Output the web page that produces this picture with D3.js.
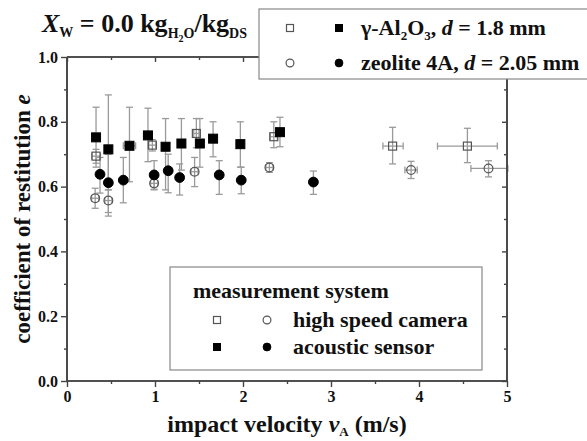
<html>
  <meta charset="utf-8">
  <head>
  <style>
    body { margin: 0; background: #fff; }
    text { font-family: "Liberation Serif", "Times New Roman", serif; font-weight: bold; fill: #111; }
  </style>
  </head>
  <body>
    <div id="chart"></div>
    <script src="https://d3js.org/d3.v7.min.js"></script>
    <script>
    'use strict';

    // acoustic sensor, gamma-Al2O3 (filled squares)
    var alAcV   = [0.33, 0.47, 0.71, 0.92, 1.12, 1.30, 1.51, 1.66, 1.97, 2.42];
    var alAcE   = [0.752, 0.715, 0.726, 0.758, 0.723, 0.733, 0.733, 0.748, 0.731, 0.768];
    var alAcEhi = [0.845, 0.883, 0.845, 0.842, 0.810, 0.810, 0.810, 0.800, 0.800, 0.814];
    var alAcElo = [0.660, 0.590, 0.615, 0.677, 0.590, 0.651, 0.660, 0.692, 0.660, 0.723];
    var alAcVlo = [0.30, 0.44, 0.64, 0.87, 1.09, 1.27, 1.48, 1.63, 1.94, 2.39];
    var alAcVhi = [0.36, 0.50, 0.78, 0.97, 1.15, 1.33, 1.54, 1.69, 2.00, 2.45];

    // acoustic sensor, zeolite 4A (filled circles)
    var zeAcV   = [0.375, 0.47, 0.64, 0.99, 1.15, 1.28, 1.73, 1.98, 2.80];
    var zeAcE   = [0.638, 0.612, 0.620, 0.636, 0.649, 0.628, 0.636, 0.620, 0.614];
    var zeAcEhi = [0.690, 0.700, 0.690, 0.680, 0.700, 0.670, 0.680, 0.660, 0.648];
    var zeAcElo = [0.580, 0.509, 0.550, 0.590, 0.581, 0.574, 0.576, 0.578, 0.576];

    // high speed camera, gamma-Al2O3 (open squares)
    var alCamV   = [0.33, 0.97, 1.47, 2.35, 3.70, 4.55];
    var alCamE   = [0.694, 0.728, 0.764, 0.754, 0.725, 0.725];
    var alCamEhi = [0.715, 0.745, 0.810, 0.800, 0.783, 0.780];
    var alCamElo = [0.672, 0.710, 0.720, 0.720, 0.670, 0.674];
    var alCamVlo = [0.28, 0.93, 1.44, 2.31, 3.59, 4.21];
    var alCamVhi = [0.38, 1.01, 1.50, 2.39, 3.82, 4.89];

    // high speed camera, zeolite 4A (open circles)
    var zeCamV   = [0.32, 0.47, 0.99, 1.45, 2.30, 3.91, 4.79];
    var zeCamE   = [0.564, 0.557, 0.610, 0.646, 0.659, 0.651, 0.656];
    var zeCamEhi = [0.595, 0.590, 0.628, 0.690, 0.674, 0.678, 0.680];
    var zeCamElo = [0.533, 0.520, 0.592, 0.600, 0.644, 0.625, 0.630];
    var zeCamVlo = [0.28, 0.43, 0.95, 1.41, 2.26, 3.84, 4.59];
    var zeCamVhi = [0.36, 0.51, 1.03, 1.49, 2.34, 3.98, 5.01];

    var xTicks = [0, 1, 2, 3, 4, 5];
    var yTicks = [0, 0.2, 0.4, 0.6, 0.8, 1.0];

    var W = 587, H = 441;
    var margin = {top: 57, right: 80, bottom: 60, left: 67};
    var AXIS = '#444', BAR = '#9a9a9a';

    var svg = d3.select('#chart').append('svg').attr('width', W).attr('height', H);

    var x = d3.scaleLinear().domain([0, 5]).range([margin.left, W - margin.right]);
    var y = d3.scaleLinear().domain([0, 1]).range([H - margin.bottom, margin.top]);

    function rows(v, e, ehi, elo, vlo, vhi) {
      return v.map(function(d, i) {
        return {v: d, e: e[i], ehi: ehi[i], elo: elo[i],
                vlo: vlo ? vlo[i] : d, vhi: vhi ? vhi[i] : d};
      });
    }
    var series = [
      {data: rows(alCamV, alCamE, alCamEhi, alCamElo, alCamVlo, alCamVhi), shape: 'square', filled: false},
      {data: rows(zeCamV, zeCamE, zeCamEhi, zeCamElo, zeCamVlo, zeCamVhi), shape: 'circle', filled: false},
      {data: rows(alAcV, alAcE, alAcEhi, alAcElo, alAcVlo, alAcVhi), shape: 'square', filled: true},
      {data: rows(zeAcV, zeAcE, zeAcEhi, zeAcElo), shape: 'circle', filled: true}
    ];

    // error bars
    var eb = svg.append('g').attr('stroke', BAR).attr('stroke-width', 1.3).attr('fill', 'none');
    series.forEach(function(s) {
      s.data.forEach(function(d) {
        var cx = x(d.v), cy = y(d.e), c = 3.5;
        eb.append('line').attr('x1', cx).attr('x2', cx).attr('y1', y(d.ehi)).attr('y2', y(d.elo));
        eb.append('line').attr('x1', cx - c).attr('x2', cx + c).attr('y1', y(d.ehi)).attr('y2', y(d.ehi));
        eb.append('line').attr('x1', cx - c).attr('x2', cx + c).attr('y1', y(d.elo)).attr('y2', y(d.elo));
        if (d.vhi - d.vlo > 0) {
          eb.append('line').attr('x1', x(d.vlo)).attr('x2', x(d.vhi)).attr('y1', cy).attr('y2', cy);
          eb.append('line').attr('x1', x(d.vlo)).attr('x2', x(d.vlo)).attr('y1', cy - c).attr('y2', cy + c);
          eb.append('line').attr('x1', x(d.vhi)).attr('x2', x(d.vhi)).attr('y1', cy - c).attr('y2', cy + c);
        }
      });
    });

    function marker(g, shape, filled, cx, cy, s) {
      var m;
      if (shape === 'square') {
        m = g.append('rect').attr('x', cx - s / 2).attr('y', cy - s / 2).attr('width', s).attr('height', s);
      } else {
        m = g.append('circle').attr('cx', cx).attr('cy', cy).attr('r', s / 2 + 0.4);
      }
      if (filled) m.attr('fill', '#000').attr('stroke', '#000');
      else m.attr('fill', 'none').attr('stroke', '#555').attr('stroke-width', 1.2);
    }

    var mk = svg.append('g');
    series.forEach(function(s) {
      s.data.forEach(function(d) { marker(mk, s.shape, s.filled, x(d.v), y(d.e), s.filled ? 9 : 8); });
    });

    // axes: major ticks outside on bottom/left, mirrored inside on top/right
    var fmtY = d3.format('.1f');
    var minorX = [0.5, 1.5, 2.5, 3.5, 4.5], minorY = [0.1, 0.3, 0.5, 0.7, 0.9];
    function axisG(kind, pos) {
      return svg.append('g').attr('class', 'ax ' + kind)
        .attr('transform', kind === 'h' ? 'translate(0,' + pos + ')' : 'translate(' + pos + ',0)');
    }
    axisG('h', y(0)).call(d3.axisBottom(x).tickValues(xTicks).tickSize(6).tickPadding(4).tickFormat(d3.format('d')));
    axisG('v', x(0)).call(d3.axisLeft(y).tickValues(yTicks).tickSize(6).tickPadding(3).tickFormat(fmtY));
    axisG('h', y(1)).call(d3.axisBottom(x).tickValues(xTicks).tickSize(5).tickFormat(''));
    axisG('v', x(5)).call(d3.axisLeft(y).tickValues(yTicks).tickSize(5).tickFormat(''));
    axisG('h', y(0)).call(d3.axisBottom(x).tickValues(minorX).tickSize(3).tickFormat(''));
    axisG('v', x(0)).call(d3.axisLeft(y).tickValues(minorY).tickSize(3).tickFormat(''));
    axisG('h', y(1)).call(d3.axisBottom(x).tickValues(minorX).tickSize(3).tickFormat(''));
    axisG('v', x(5)).call(d3.axisLeft(y).tickValues(minorY).tickSize(3).tickFormat(''));
    svg.selectAll('.ax.h .domain').attr('d', 'M' + x(0) + ',0H' + x(5));
    svg.selectAll('.ax.v .domain').attr('d', 'M0,' + y(0) + 'V' + y(1));
    svg.selectAll('.ax .domain').attr('stroke', AXIS).attr('stroke-width', 1.6);
    svg.selectAll('.ax .tick line').attr('stroke', AXIS).attr('stroke-width', 1.4);
    svg.selectAll('.ax .tick text').style('font-family', '"Liberation Serif", serif')
      .style('font-weight', 'bold').style('font-size', '16px').attr('fill', '#111');

    // axis titles
    var xl = svg.append('text').attr('x', (x(0) + x(5)) / 2).attr('y', 432)
      .attr('text-anchor', 'middle').style('font-size', '24px');
    xl.append('tspan').text('impact velocity ');
    xl.append('tspan').text('v').style('font-style', 'italic');
    xl.append('tspan').text('A').style('font-size', '13px').attr('dy', 4);
    xl.append('tspan').text(' (m/s)').attr('dy', -4);

    var yl = svg.append('text').attr('transform', 'translate(30,' + (y(0) + y(1)) / 2 + ') rotate(-90)')
      .attr('text-anchor', 'middle').style('font-size', '23px');
    yl.append('tspan').text('coefficient of restitution ');
    yl.append('tspan').text('e').style('font-style', 'italic');

    // title
    var t = svg.append('text').attr('x', 42).attr('y', 32).style('font-size', '26px');
    t.append('tspan').text('X').style('font-style', 'italic');
    t.append('tspan').text('W').style('font-size', '14px').attr('dy', 5);
    t.append('tspan').text(' = 0.0 kg').attr('dy', -5);
    t.append('tspan').text('H').style('font-size', '14px').attr('dy', 6);
    t.append('tspan').text('2').style('font-size', '10px').attr('dy', 4);
    t.append('tspan').text('O').style('font-size', '14px').attr('dy', -4);
    t.append('tspan').text('/kg').attr('dy', -6);
    t.append('tspan').text('DS').style('font-size', '14px').attr('dy', 6);

    // top legend
    var lg = svg.append('g');
    lg.append('rect').attr('x', 259).attr('y', 9).attr('width', 340).attr('height', 70)
      .attr('fill', '#fff').attr('stroke', '#888').attr('stroke-width', 1.2);
    marker(lg, 'square', false, 290, 28, 7);
    marker(lg, 'square', true, 339, 28, 7);
    marker(lg, 'circle', false, 290, 63, 7);
    marker(lg, 'circle', true, 339, 63, 7);
    var l1 = lg.append('text').attr('x', 361).attr('y', 35).style('font-size', '22px');
    l1.append('tspan').text('\u03b3-Al');
    l1.append('tspan').text('2').style('font-size', '13px').attr('dy', 5);
    l1.append('tspan').text('O').attr('dy', -5);
    l1.append('tspan').text('3').style('font-size', '13px').attr('dy', 5);
    l1.append('tspan').text(', ').attr('dy', -5);
    l1.append('tspan').text('d').style('font-style', 'italic');
    l1.append('tspan').text(' = 1.8 mm');
    var l2 = lg.append('text').attr('x', 361).attr('y', 70).style('font-size', '22px');
    l2.append('tspan').text('zeolite 4A, ');
    l2.append('tspan').text('d').style('font-style', 'italic');
    l2.append('tspan').text(' = 2.05 mm');

    // lower legend
    var lg2 = svg.append('g');
    lg2.append('rect').attr('x', 170).attr('y', 267).attr('width', 312).attr('height', 103)
      .attr('fill', '#fff').attr('stroke', '#888').attr('stroke-width', 1.2);
    lg2.append('text').attr('x', 193).attr('y', 298).style('font-size', '22px').text('measurement system');
    marker(lg2, 'square', false, 217, 320, 7);
    marker(lg2, 'circle', false, 267, 320, 7);
    marker(lg2, 'square', true, 217, 347, 7);
    marker(lg2, 'circle', true, 267, 347, 7);
    lg2.append('text').attr('x', 293).attr('y', 327).style('font-size', '22px').text('high speed camera');
    lg2.append('text').attr('x', 293).attr('y', 354).style('font-size', '22px').text('acoustic sensor');
    </script>
  </body>
</html>
